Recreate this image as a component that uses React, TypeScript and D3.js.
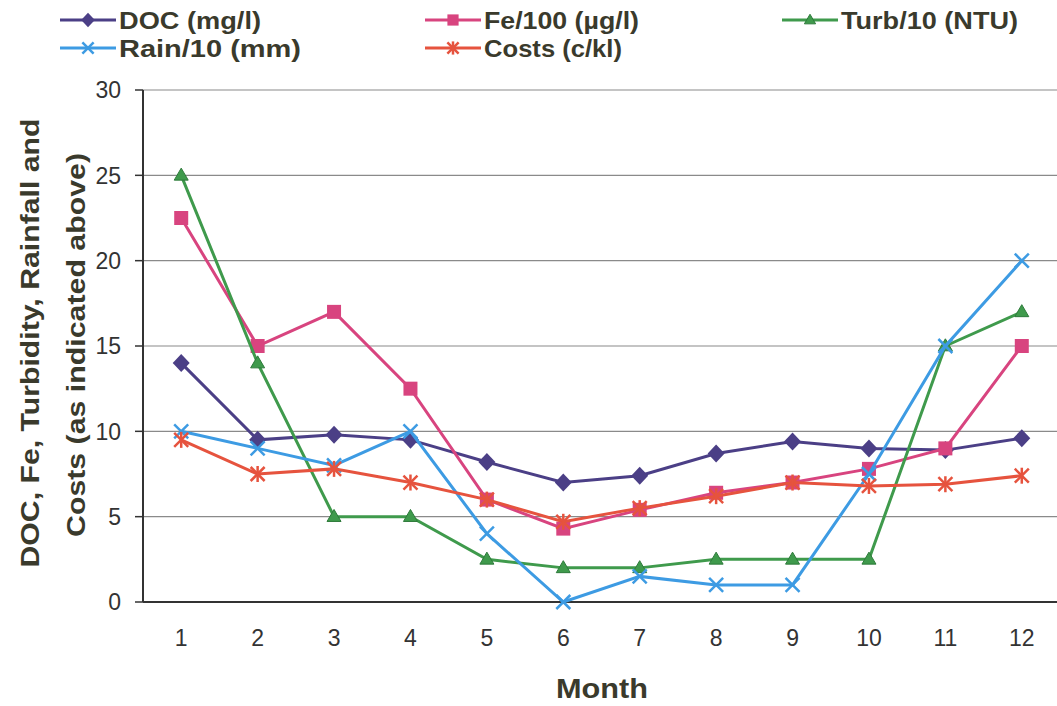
import React from "react";
import * as d3 from "d3";

const months = [1, 2, 3, 4, 5, 6, 7, 8, 9, 10, 11, 12];
const doc = [14, 9.5, 9.8, 9.5, 8.2, 7, 7.4, 8.7, 9.4, 9.0, 8.9, 9.6];
const fe = [22.5, 15, 17, 12.5, 6, 4.3, 5.4, 6.4, 7, 7.8, 9, 15];
const turb = [25, 14, 5, 5, 2.5, 2, 2, 2.5, 2.5, 2.5, 15, 17];
const rain = [10, 9, 8, 10, 4, 0, 1.5, 1, 1, 7.5, 15, 20];
const costs = [9.5, 7.5, 7.8, 7, 6, 4.7, 5.5, 6.2, 7, 6.8, 6.9, 7.4];
const yTicks = [0, 5, 10, 15, 20, 25, 30];

const seriesDefs = [
  { name: "DOC (mg/l)", values: doc, color: "#4b3f86", marker: "diamond" },
  { name: "Fe/100 (\u00b5g/l)", values: fe, color: "#d8447f", marker: "square" },
  { name: "Turb/10 (NTU)", values: turb, color: "#3f9a4c", marker: "triangle" },
  { name: "Rain/10 (mm)", values: rain, color: "#3d9be3", marker: "x" },
  { name: "Costs (c/kl)", values: costs, color: "#e6533e", marker: "star" },
];

const legendPos = [
  { x: 88, y: 20, w: 142 },
  { x: 453, y: 20, w: 155 },
  { x: 810, y: 20, w: 177 },
  { x: 88, y: 48, w: 182 },
  { x: 453, y: 48, w: 138 },
];

function Marker({ type, x, y, color, k = 1 }: { type: string; x: number; y: number; color: string; k?: number }) {
  const s = 7 * k;
  if (type === "diamond") {
    const w = 8.5 * k, h = 9 * k;
    return <path d={`M${x},${y - h}L${x + w},${y}L${x},${y + h}L${x - w},${y}Z`} fill={color} />;
  }
  if (type === "square") {
    return <rect x={x - s} y={y - s} width={2 * s} height={2 * s} fill={color} />;
  }
  if (type === "triangle") {
    const w = 7 * k, h = 12 * k;
    return <path d={`M${x},${y - h * 0.6}L${x + w},${y + h * 0.4}L${x - w},${y + h * 0.4}Z`} fill={color} stroke="#2d7a3a" strokeWidth={1} />;
  }
  if (type === "x") {
    return (
      <g stroke={color} strokeWidth={2.5}>
        <line x1={x - s} y1={y - s} x2={x + s} y2={y + s} />
        <line x1={x - s} y1={y + s} x2={x + s} y2={y - s} />
      </g>
    );
  }
  return (
    <g stroke={color} strokeWidth={2.5}>
      <line x1={x - s} y1={y - s} x2={x + s} y2={y + s} />
      <line x1={x - s} y1={y + s} x2={x + s} y2={y - s} />
      <line x1={x} y1={y - s - 1} x2={x} y2={y + s + 1} />
    </g>
  );
}

export default function App() {
  const W = 1057, H = 706;
  const left = 143, right = 1060, top = 90, bottom = 602;
  const x = d3.scaleBand<number>().domain(months).range([left, right]);
  const xc = (m: number) => (x(m) as number) + x.bandwidth() / 2;
  const y = d3.scaleLinear().domain([0, 30]).range([bottom, top]);
  const line = d3.line<number>().x((_, i) => xc(months[i])).y((d) => y(d));
  const textColor = "#3a3a2c";

  return (
    <svg width={W} height={H} style={{ position: "absolute", left: 0, top: 0, background: "#fff" }} fontFamily="Arial, 'Liberation Sans', sans-serif">
      <rect width={W} height={H} fill="#fff" />
      {yTicks.filter((t) => t > 0).map((t) => (
        <line key={t} x1={left} x2={right} y1={y(t)} y2={y(t)} stroke="#8a8a8a" strokeWidth={1.2} />
      ))}
      <line x1={left} x2={left} y1={top} y2={bottom} stroke="#333" strokeWidth={2} />
      <line x1={left} x2={right} y1={bottom} y2={bottom} stroke="#333" strokeWidth={2} />
      {yTicks.map((t) => (
        <g key={t}>
          <line x1={left - 8} x2={left} y1={y(t)} y2={y(t)} stroke="#333" strokeWidth={1.5} />
          <text x={121} y={y(t)} dy="0.36em" textAnchor="end" fontSize={23} fill="#333">{t}</text>
        </g>
      ))}
      {months.map((m) => (
        <text key={m} x={xc(m)} y={646} textAnchor="middle" fontSize={23} fill="#333">{m}</text>
      ))}
      {seriesDefs.map((s) => (
        <g key={s.name}>
          <path d={line(s.values)!} fill="none" stroke={s.color} strokeWidth={3} />
          {s.values.map((v, i) => (
            <Marker key={i} type={s.marker} x={xc(months[i])} y={y(v)} color={s.color} />
          ))}
        </g>
      ))}
      {seriesDefs.map((s, i) => {
        const p = legendPos[i];
        return (
          <g key={s.name}>
            <line x1={p.x - 28} x2={p.x + 28} y1={p.y} y2={p.y} stroke={s.color} strokeWidth={3} />
            <Marker type={s.marker} x={p.x} y={p.y} color={s.color} k={0.8} />
            <text x={p.x + 31} y={p.y + 9} fontSize={24} fontWeight="bold" fill={textColor} textLength={p.w} lengthAdjust="spacingAndGlyphs">{s.name}</text>
          </g>
        );
      })}
      <text x={602} y={698} textAnchor="middle" fontSize={28} fontWeight="bold" fill={textColor} textLength={92} lengthAdjust="spacingAndGlyphs">Month</text>
      <text transform={`translate(30,343) rotate(-90)`} textAnchor="middle" dominantBaseline="central" fontSize={26} fontWeight="bold" fill={textColor} textLength={449} lengthAdjust="spacingAndGlyphs">DOC, Fe, Turbidity, Rainfall and</text>
      <text transform={`translate(76,345) rotate(-90)`} textAnchor="middle" dominantBaseline="central" fontSize={26} fontWeight="bold" fill={textColor} textLength={384} lengthAdjust="spacingAndGlyphs">Costs (as indicated above)</text>
    </svg>
  );
}
